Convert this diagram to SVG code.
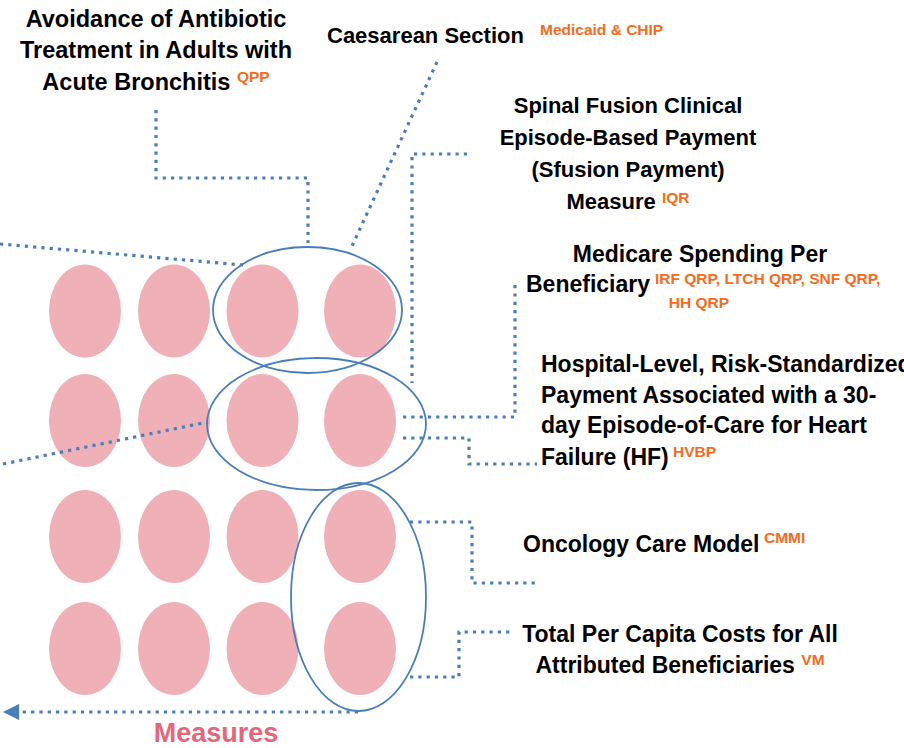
<svg xmlns="http://www.w3.org/2000/svg" width="904" height="748" viewBox="0 0 904 748">
<defs>
<style>
.pk{fill:#EFB0B7;stroke:none}
.grp{fill:none;stroke:#4A7EBB;stroke-width:1.8}
.con{fill:none;stroke:#4A7EBB;stroke-width:3.2;stroke-dasharray:3.2 5.1}
.t{font-family:"Liberation Sans",Arial,sans-serif;font-weight:bold;font-size:23px;fill:#000}
.t22{font-size:22px}
.t235{font-size:23.5px}
.s{font-family:"Liberation Sans",Arial,sans-serif;font-weight:bold;font-size:15.5px;fill:#F36C21}
.m{font-family:"Liberation Sans",Arial,sans-serif;font-weight:bold;font-size:27px;fill:#E3677A}
</style>
<marker id="ah" viewBox="0 0 16 16" markerWidth="16" markerHeight="16" markerUnits="userSpaceOnUse" refX="0" refY="8" orient="auto">
<path d="M0,0 L16,8 L0,16 z" fill="#4A7EBB"/>
</marker>
</defs>
<rect width="904" height="748" fill="#fff"/>

<g id="measures-grid">
<ellipse class="pk" cx="85" cy="311" rx="36" ry="46.5"/>
<ellipse class="pk" cx="174" cy="311" rx="36" ry="46.5"/>
<ellipse class="pk" cx="262.5" cy="311" rx="36" ry="46.5"/>
<ellipse class="pk" cx="360" cy="311" rx="36" ry="46.5"/>
<ellipse class="pk" cx="85" cy="420.5" rx="36" ry="46.5"/>
<ellipse class="pk" cx="174" cy="420.5" rx="36" ry="46.5"/>
<ellipse class="pk" cx="262.5" cy="420.5" rx="36" ry="46.5"/>
<ellipse class="pk" cx="360" cy="420.5" rx="36" ry="46.5"/>
<ellipse class="pk" cx="85" cy="536.5" rx="36" ry="46.5"/>
<ellipse class="pk" cx="174" cy="536.5" rx="36" ry="46.5"/>
<ellipse class="pk" cx="262.5" cy="536.5" rx="36" ry="46.5"/>
<ellipse class="pk" cx="360" cy="536.5" rx="36" ry="46.5"/>
<ellipse class="pk" cx="85" cy="648.5" rx="36" ry="46.5"/>
<ellipse class="pk" cx="174" cy="648.5" rx="36" ry="46.5"/>
<ellipse class="pk" cx="262.5" cy="648.5" rx="36" ry="46.5"/>
<ellipse class="pk" cx="360" cy="648.5" rx="36" ry="46.5"/>
</g>

<g id="group-top"><ellipse class="grp" cx="307.5" cy="310" rx="94.5" ry="63"/></g>
<g id="group-middle"><ellipse class="grp" cx="316.5" cy="424" rx="109.5" ry="66"/></g>
<g id="group-vertical"><ellipse class="grp" cx="358.5" cy="597" rx="67.5" ry="114"/></g>

<g id="connectors">
<path class="con" d="M156,110 V178 H308 V243"/>
<path class="con" d="M437,62 L352,246"/>
<path class="con" d="M467,154 H412 V383"/>
<path class="con" d="M403,417 H515 V285"/>
<path class="con" d="M403,438 H469 V464 H537"/>
<path class="con" d="M410,522 H472 V583 H536"/>
<path class="con" d="M410,677 H459 V632 H510"/>
<path class="con" d="M0,244 L243,265"/>
<path class="con" d="M3,464 L208,422"/>
<path class="con" d="M358,712 H19" marker-end="url(#ah)"/>
</g>

<g id="label-avoidance">
<text class="t t235" x="156" y="27" text-anchor="middle">Avoidance of Antibiotic</text>
<text class="t t235" x="156" y="58" text-anchor="middle">Treatment in Adults with</text>
<text class="t t235" x="156" y="90" text-anchor="middle">Acute Bronchitis <tspan class="s" dy="-8">QPP</tspan></text>
</g>

<g id="label-caesarean">
<text class="t t22" x="327" y="43">Caesarean Section</text>
<text class="s" x="540" y="35">Medicaid &amp; CHIP</text>
</g>

<g id="label-spinal">
<text class="t t22" x="628" y="113" text-anchor="middle">Spinal Fusion Clinical</text>
<text class="t t22" x="628" y="145" text-anchor="middle">Episode-Based Payment</text>
<text class="t t22" x="628" y="177" text-anchor="middle">(Sfusion Payment)</text>
<text class="t t22" x="628" y="209" text-anchor="middle">Measure <tspan class="s" dy="-6">IQR</tspan></text>
</g>

<g id="label-mspb">
<text class="t" x="700" y="262" text-anchor="middle">Medicare Spending Per</text>
<text class="t" x="526" y="292">Beneficiary</text>
<text class="s" x="655" y="284">IRF QRP, LTCH QRP, SNF QRP,</text>
<text class="s" x="699" y="308" text-anchor="middle">HH QRP</text>
</g>

<g id="label-hospital">
<text class="t" x="541" y="372">Hospital-Level, Risk-Standardized</text>
<text class="t" x="541" y="403">Payment Associated with a 30-</text>
<text class="t" x="541" y="433">day Episode-of-Care for Heart</text>
<text class="t" x="541" y="465">Failure (HF) <tspan class="s" x="673" y="457">HVBP</tspan></text>
</g>

<g id="label-oncology">
<text class="t" x="523" y="552">Oncology Care Model</text>
<text class="s" x="764" y="543">CMMI</text>
</g>

<g id="label-total">
<text class="t" x="680" y="642" text-anchor="middle">Total Per Capita Costs for All</text>
<text class="t" x="680" y="673" text-anchor="middle">Attributed Beneficiaries <tspan class="s" dy="-8">VM</tspan></text>
</g>

<g id="label-measures">
<text class="m" x="216" y="742" text-anchor="middle">Measures</text>
</g>
</svg>
